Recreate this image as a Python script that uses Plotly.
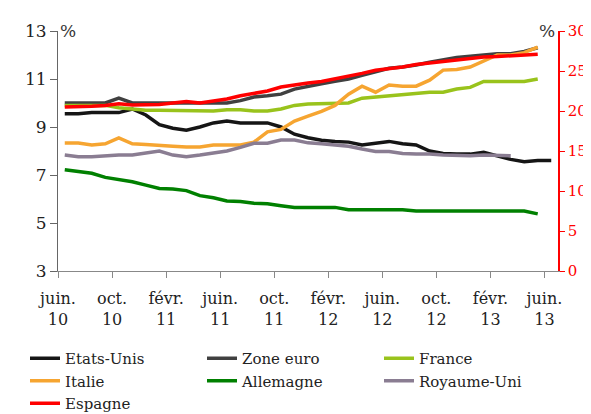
import plotly.graph_objects as go

months = ["juin. 10","juil. 10","août 10","sept. 10","oct. 10","nov. 10","déc. 10","janv. 11","févr. 11","mars 11","avr. 11","mai 11",
          "juin. 11","juil. 11","août 11","sept. 11","oct. 11","nov. 11","déc. 11","janv. 12","févr. 12","mars 12","avr. 12","mai 12",
          "juin. 12","juil. 12","août 12","sept. 12","oct. 12","nov. 12","déc. 12","janv. 13","févr. 13","mars 13","avr. 13","mai 13","juin. 13"]

tick_idx = [0, 4, 8, 12, 16, 20, 24, 28, 32, 36]
tick_labels = ["juin.<br>10","oct.<br>10","févr.<br>11","juin.<br>11","oct.<br>11","févr.<br>12",
               "juin.<br>12","oct.<br>12","févr.<br>13","juin.<br>13"]

etats_unis = [9.55,9.55,9.6,9.6,9.6,9.75,9.5,9.1,8.95,8.87,9.0,9.17,9.25,9.17,9.17,9.17,9.0,8.7,8.55,8.45,
              8.4,8.37,8.25,8.33,8.4,8.3,8.25,8.0,7.9,7.87,7.87,7.95,7.8,7.65,7.55,7.6,7.6]
zone_euro = [10.0,10.0,10.0,10.0,10.2,10.0,10.0,10.0,10.0,10.0,10.0,10.0,10.0,10.1,10.25,10.3,10.37,10.58,10.7,10.8,
             10.9,11.0,11.15,11.3,11.45,11.5,11.58,11.7,11.8,11.9,11.95,12.0,12.05,12.05,12.15,12.3]
france = [9.9,9.9,9.9,9.9,9.8,9.75,9.7,9.7,9.7,9.67,9.67,9.67,9.72,9.72,9.67,9.67,9.75,9.9,9.96,9.98,
          10.0,10.0,10.2,10.25,10.3,10.35,10.4,10.45,10.45,10.58,10.65,10.9,10.9,10.9,10.9,11.0]
italie = [8.33,8.33,8.25,8.3,8.55,8.3,8.27,8.25,8.2,8.17,8.17,8.25,8.25,8.25,8.37,8.8,8.9,9.25,9.45,9.65,
          9.9,10.37,10.7,10.45,10.75,10.7,10.7,10.95,11.37,11.4,11.5,11.75,12.0,12.0,12.1,12.33]
allemagne = [7.22,7.14,7.07,6.9,6.8,6.72,6.58,6.44,6.42,6.35,6.14,6.05,5.92,5.9,5.82,5.8,5.72,5.65,5.65,5.65,
             5.65,5.55,5.55,5.55,5.55,5.55,5.5,5.5,5.5,5.5,5.5,5.5,5.5,5.5,5.5,5.38]
royaume_uni = [7.83,7.76,7.76,7.8,7.83,7.83,7.9,8.0,7.83,7.76,7.83,7.93,8.0,8.15,8.32,8.32,8.46,8.46,8.34,8.3,
               8.25,8.2,8.08,7.98,7.98,7.9,7.87,7.87,7.83,7.8,7.8,7.83,7.8,7.8]
espagne = [20.5,20.5,20.6,20.7,20.9,20.75,20.75,20.8,21.0,21.2,21.0,21.2,21.5,21.9,22.25,22.5,23.0,23.3,23.5,23.7,
           24.0,24.3,24.7,25.1,25.25,25.5,25.8,26.0,26.2,26.4,26.6,26.75,26.8,26.9,27.0,27.1]

series = [
    ("Etats-Unis", etats_unis, "#151515", "y"),
    ("Zone euro", zone_euro, "#404040", "y"),
    ("France", france, "#99C31C", "y"),
    ("Italie", italie, "#F6A531", "y"),
    ("Allemagne", allemagne, "#008000", "y"),
    ("Royaume-Uni", royaume_uni, "#8A7D92", "y"),
    ("Espagne", espagne, "#FF0000", "y2"),
]

FONT = "DejaVu Serif"
fig = go.Figure()
for name, vals, color, ax in series:
    xs = [i + 0.5 for i in range(len(vals))]
    fig.add_trace(go.Scatter(x=xs, y=vals, name=name, mode="lines", yaxis=ax,
                             line=dict(color=color, width=3.5), hovertext=months[:len(vals)]))

fig.update_layout(
    template="none",
    width=591, height=414,
    margin=dict(l=50, r=41, t=23, b=151, autoexpand=False),
    paper_bgcolor="white", plot_bgcolor="white",
    font=dict(family=FONT, size=16, color="#222222"),
    xaxis=dict(range=[0, 37], tickmode="array", tickvals=tick_idx, ticktext=tick_labels,
               showgrid=False, zeroline=False, showline=True, linecolor="#888888", linewidth=1,
               ticks="outside", ticklen=6, tickcolor="#888888", tickfont=dict(family=FONT, size=16, color="#222222"),
               ticklabelstandoff=7),
    yaxis=dict(range=[3, 13], tickmode="array", tickvals=[3, 5, 7, 9, 11, 13],
               showgrid=False, zeroline=False, showline=True, linecolor="#666666", linewidth=1,
               ticks="outside", ticklen=7, tickcolor="#666666", tickfont=dict(family=FONT, size=17, color="#222222")),
    yaxis2=dict(range=[0, 30], tickmode="array", tickvals=[0, 5, 10, 15, 20, 25, 30], overlaying="y", side="right",
                showgrid=False, zeroline=False, showline=True, linecolor="#FF0000", linewidth=1.5,
                ticks="outside", ticklen=5, tickcolor="#FF0000", tickfont=dict(family=FONT, size=15, color="#FF0000")),
    legend=dict(orientation="h", x=-0.066, y=-(334 - 263) / 240,
                xanchor="left", yanchor="top", entrywidth=132, entrywidthmode="pixels",
                font=dict(family=FONT, size=15, color="#222222"), tracegroupgap=0, itemwidth=30,
                bgcolor="rgba(0,0,0,0)"),
    showlegend=True,
)
fig.add_annotation(text="%", xref="paper", yref="paper", x=0.0, y=1.0, xanchor="left", yanchor="middle",
                   showarrow=False, font=dict(family=FONT, size=17, color="#333333"))
fig.add_annotation(text="%", xref="paper", yref="paper", x=0.998, y=1.0, xanchor="right", yanchor="middle",
                   showarrow=False, font=dict(family=FONT, size=17, color="#333333"))

fig.write_html("out.html")
